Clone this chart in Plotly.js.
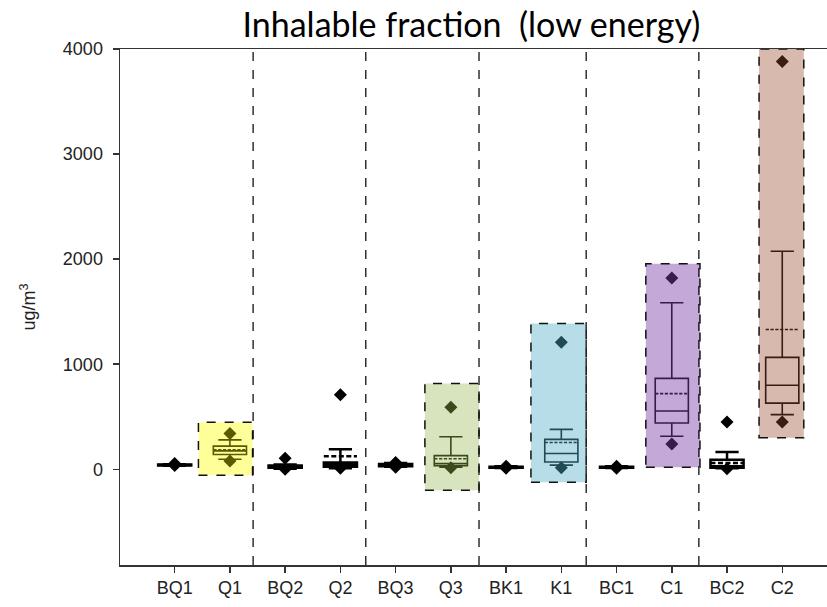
<!DOCTYPE html>
<html>
<head>
<meta charset="utf-8">
<script src="https://cdn.plot.ly/plotly-3.0.1.min.js"></script>
<style>html,body{margin:0;padding:0;background:#fff;}#chart{width:827px;height:607px;}</style>
</head>
<body>
<div id="chart"></div>
<script>
// ---- data ----
const categories = ['BQ1','Q1','BQ2','Q2','BQ3','Q3','BK1','K1','BC1','C1','BC2','C2'];
const lowerfence = [33, 95, 5, 10, 25, 20, 12, 40, 12, 315, 10, 520];
const q1Vals     = [35, 140, 15, 25, 30, 35, 15, 70, 15, 440, 15, 630];
const medianVals = [40, 175, 25, 40, 40, 55, 20, 150, 20, 555, 30, 800];
const q3Vals     = [45, 220, 35, 65, 50, 130, 25, 285, 25, 865, 90, 1065];
const upperfence = [48, 280, 45, 190, 60, 310, 30, 380, 30, 1585, 165, 2075];
const meanVals   = [40, 185, 30, 125, 45, 100, 20, 255, 20, 720, 60, 1330];
const minVals    = [35, 80, 0, 10, 20, 15, 10, 15, 10, 240, 5, 450];
const maxVals    = [55, 340, 105, 710, 65, 590, 30, 1210, 30, 1820, 450, 3880];
// shaded ranges behind the sample groups (category name, low, high)
const shadeCats  = ['Q1','Q3','K1','C1','C2'];
const shadeLow   = [-57, -200, -123, 19, 299];
const shadeHigh  = [447, 817, 1387, 1957, 4000];

// ---- styles ----
const darkColor = {Q1:'#5a5a00', Q3:'#3a4a1a', K1:'#1f4a57', C1:'#3a1b4b', C2:'#3b1c14'};
const fillColor = {Q1:'#ffff99', Q3:'#d7e4bd', K1:'#b7dee8', C1:'#c4a8d8', C2:'#d7b9ad'};
const shadeEdges = {Q1:[-0.57,0.41], Q3:[-0.47,0.51], K1:[-0.55,0.45], C1:[-0.47,0.51], C2:[-0.42,0.39]};
const separators = [1.42, 3.46, 5.51, 7.45, 9.49];

const traces = [];
categories.forEach((c, i) => {
  const col = darkColor[c] || '#000000';
  const isB = !darkColor[c];
  traces.push({
    type: 'box',
    x: [c],
    q1: [q1Vals[i]], median: [medianVals[i]], q3: [q3Vals[i]],
    lowerfence: [lowerfence[i]], upperfence: [upperfence[i]], mean: [meanVals[i]],
    boxmean: true,
    width: 0.6,
    whiskerwidth: 0.7,
    line: {color: col, width: isB ? 2.5 : 1.6},
    fillcolor: 'rgba(0,0,0,0)',
    boxpoints: false,
    hoverinfo: 'skip',
    showlegend: false
  });
  traces.push({
    type: 'scatter', mode: 'markers',
    x: [c, c], y: [minVals[i], maxVals[i]],
    marker: {symbol: 'diamond', size: 10, color: col},
    hoverinfo: 'skip', showlegend: false
  });
});

const shapes = [];
shadeCats.forEach((c, k) => {
  const idx = categories.indexOf(c);
  shapes.push({
    type: 'rect', layer: 'below', xref: 'x', yref: 'y',
    x0: idx + shadeEdges[c][0], x1: idx + shadeEdges[c][1],
    y0: shadeLow[k], y1: shadeHigh[k],
    fillcolor: fillColor[c],
    line: {color: '#111', width: 1.5, dash: 'dash'}
  });
});
separators.forEach(sx => {
  shapes.push({
    type: 'line', layer: 'above', xref: 'x', yref: 'paper',
    x0: sx, x1: sx, y0: 0, y1: 1,
    line: {color: '#111', width: 1.3, dash: 'dash'}
  });
});

const layout = {
  width: 827, height: 607,
  margin: {l: 120, r: 0, t: 49, b: 42},
  paper_bgcolor: '#ffffff', plot_bgcolor: '#ffffff',
  showlegend: false,
  boxmode: 'overlay',
  title: {
    text: 'Inhalable fraction  (low energy)',
    font: {family: 'Lato, "Open Sans", sans-serif', size: 34, color: '#000'},
    x: 0.57, xref: 'container', xanchor: 'center',
    y: 0.958, yref: 'container', yanchor: 'middle'
  },
  xaxis: {
    type: 'category',
    categoryorder: 'array', categoryarray: categories,
    range: [-0.99, 11.81],
    showline: true, linecolor: '#333', linewidth: 1.5, mirror: true,
    ticks: 'outside', ticklen: 6, tickcolor: '#333', tickwidth: 1.5,
    showgrid: false, zeroline: false,
    tickfont: {family: '"Liberation Sans", Arial, sans-serif', size: 18, color: '#222'},
    fixedrange: true
  },
  yaxis: {
    range: [-911, 4000],
    tickvals: [0, 1000, 2000, 3000, 4000],
    ticktext: ['0', '1000', '2000', '3000', '4000'],
    showline: true, linecolor: '#333', linewidth: 1.5,
    ticks: 'outside', ticklen: 6, tickcolor: '#333', tickwidth: 1.5,
    ticklabelstandoff: 6,
    showgrid: false, zeroline: false,
    tickfont: {family: '"Liberation Sans", Arial, sans-serif', size: 18, color: '#222'},
    title: {text: 'ug/m<sup>3</sup>', standoff: 22,
            font: {family: '"Liberation Sans", Arial, sans-serif', size: 18, color: '#222'}},
    fixedrange: true
  },
  shapes: shapes
};

Plotly.newPlot('chart', traces, layout, {displayModeBar: false, staticPlot: true});
</script>
</body>
</html>
